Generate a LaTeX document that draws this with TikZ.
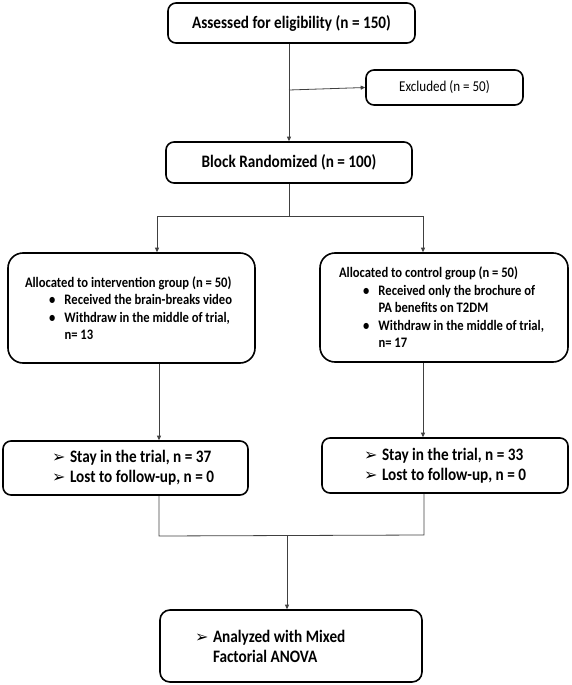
\documentclass[tikz,border=0pt]{standalone}
\usepackage{fontspec}
\usetikzlibrary{arrows.meta}
\newfontfamily\cf[FakeStretch=0.87]{Carlito}
\newfontfamily\dv{DejaVu Sans}
\newcommand{\arr}{\makebox[18pt][l]{\raisebox{0pt}{\fontsize{16}{16}\selectfont\dv ➢}}}
\newcommand{\bul}{\hspace*{24pt}\makebox[15.5pt][l]{•}}
\begin{document}
\begin{tikzpicture}[x=1pt,y=-1pt,
  box/.style={draw=black, line width=1.6pt, rounded corners=8pt, inner sep=0pt, font=\cf\bfseries\fontsize{17.5}{20}\selectfont},
  bigbox/.style={box, rounded corners=15pt, font=\cf\bfseries\fontsize{14.5}{17.5}\selectfont, align=flush left},
  conn/.style={draw=black!75, line width=0.8pt},
  arrowc/.style={conn, -{Triangle[length=4.5pt,width=4pt]}}]
\useasboundingbox (0,0) rectangle (571,685);

\node[box, minimum width=247pt, minimum height=40pt] (assess) at (291.5,23) {Assessed for eligibility (n = 150)};
\node[box, minimum width=157pt, minimum height=35pt, font=\cf\fontsize{15}{18}\selectfont] (excl) at (444.5,87.5) {Excluded (n = 50)};
\node[box, minimum width=246pt, minimum height=41pt] (block) at (289,162.5) {Block Randomized (n = 100)};

\node[bigbox, minimum width=247pt, minimum height=110pt, text width=213pt] (lalloc) at (131.5,308) {\mbox{Allocated to intervention group (n = 50)}\\
\mbox{\bul Received the brain-breaks video}\\
\mbox{\bul Withdraw in the middle of trial,}\\
\mbox{\hspace*{39.5pt}n= 13}};
\node[bigbox, minimum width=248pt, minimum height=109pt, text width=210pt] (ralloc) at (444,307.5) {\mbox{Allocated to control group (n = 50)}\\
\mbox{\bul Received only the brochure of}\\
\mbox{\hspace*{39.5pt}PA benefits on T2DM}\\
\mbox{\bul Withdraw in the middle of trial,}\\
\mbox{\hspace*{39.5pt}n= 17}};

\node[box, minimum width=245pt, minimum height=54pt, text width=147pt, align=flush left] (lstay) at (125.5,468) {\mbox{\arr Stay in the trial, n = 37}\\ \mbox{\arr Lost to follow-up, n = 0}};
\node[box, minimum width=246pt, minimum height=55pt, text width=162pt, align=flush left] (rstay) at (445,465.5) {\mbox{\arr Stay in the trial, n = 33}\\ \mbox{\arr Lost to follow-up, n = 0}};

\node[box, rounded corners=10pt, minimum width=262pt, minimum height=72pt, text width=192pt, align=flush left] (final) at (291,646) {\mbox{\arr Analyzed with Mixed}\\ \mbox{\hspace*{18pt}Factorial ANOVA}};

% connectors
\coordinate (ex) at (289,90);
\draw[arrowc] (block.north |- assess.south) -- (block.north);
\draw[arrowc] (ex) -- (excl.west);
\coordinate (br) at (289,216);
\coordinate (bl) at (157,216);
\coordinate (brr) at (423,216);
\draw[conn] (block.south) -- (br);
\draw[arrowc] (bl) -- (bl |- lalloc.north);
\draw[arrowc] (brr) -- (brr |- ralloc.north);
\draw[conn] (bl) -- (brr);
\coordinate (lx) at (159,400);
\coordinate (rx) at (423,400);
\draw[arrowc] (lx |- lalloc.south) -- (lx |- lstay.north);
\draw[arrowc] (rx |- ralloc.south) -- (rx |- rstay.north);
\coordinate (jl) at (159,536);
\coordinate (jr) at (424,535);
\coordinate (jc) at (287,535.5);
\draw[conn] (jl |- lstay.south) -- (jl) -- (jr) -- (jr |- rstay.south);
\draw[arrowc] (jc) -- (jc |- final.north);
\end{tikzpicture}
\end{document}
